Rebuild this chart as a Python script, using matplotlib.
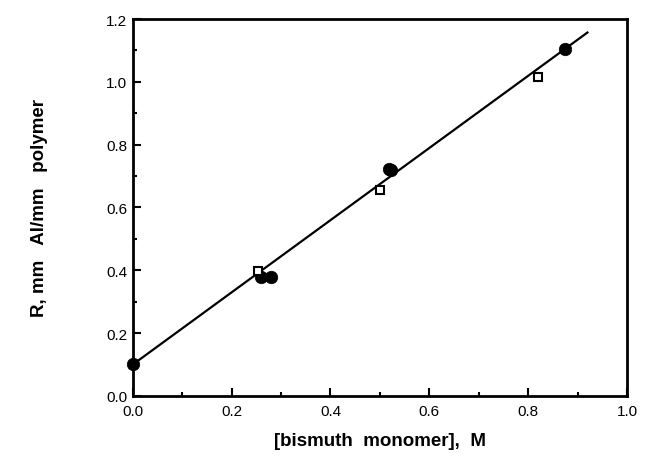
import numpy as np
import matplotlib
matplotlib.use('Agg')
import matplotlib.pyplot as plt
from matplotlib.ticker import MultipleLocator

plt.rcParams['font.family'] = ['Liberation Sans', 'DejaVu Sans']

# filled circles
circ_x = [0.0, 0.26, 0.28, 0.518, 0.523, 0.875]
circ_y = [0.10, 0.38, 0.378, 0.722, 0.72, 1.105]
# open squares
sq_x = [0.253, 0.50, 0.82]
sq_y = [0.398, 0.656, 1.017]
# fitted line
line_x = [0.0, 0.92]
line_y = [0.10, 1.157]

fig = plt.figure(figsize=(6.45, 4.77), dpi=100)
ax = fig.add_axes([0.206, 0.168, 0.766, 0.79])

ax.plot(line_x, line_y, color='black', lw=1.6, zorder=2)
ax.plot(circ_x, circ_y, 'o', color='black', markersize=9, markeredgewidth=0.5,
        zorder=3, clip_on=False)
ax.plot(sq_x, sq_y, 's', markerfacecolor='white', markeredgecolor='black',
        markeredgewidth=1.5, markersize=6, zorder=4)

ax.set_xlim(0, 1.0)
ax.set_ylim(0, 1.2)
ax.xaxis.set_major_locator(MultipleLocator(0.2))
ax.xaxis.set_minor_locator(MultipleLocator(0.1))
ax.yaxis.set_major_locator(MultipleLocator(0.2))
ax.yaxis.set_minor_locator(MultipleLocator(0.1))
ax.xaxis.set_major_formatter(plt.FormatStrFormatter('%.1f'))
ax.yaxis.set_major_formatter(plt.FormatStrFormatter('%.1f'))

ax.tick_params(which='both', direction='in', width=1.5, labelsize=11)
ax.tick_params(which='major', length=6)
ax.tick_params(which='minor', length=3)
ax.tick_params(axis='x', pad=6)
ax.tick_params(axis='y', pad=4)
for s in ax.spines.values():
    s.set_linewidth(2)

ax.set_xlabel('[bismuth  monomer],  M', fontsize=13.5, fontweight='bold', labelpad=10)
ax.set_ylabel('R, mm   Al/mm   polymer', fontsize=13.5, fontweight='bold', labelpad=42)

fig.savefig('out.png', dpi=100)
